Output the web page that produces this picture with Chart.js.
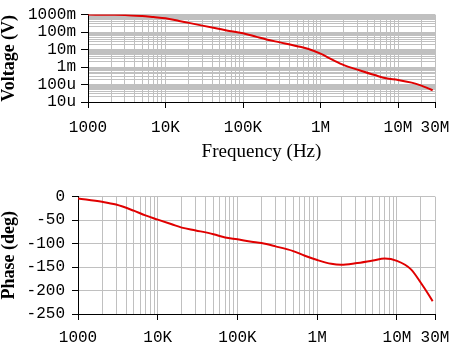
<!DOCTYPE html>
<html>
<head>
<meta charset="utf-8">
<script src="https://cdn.jsdelivr.net/npm/chart.js@4"></script>
<style>
  html, body { margin: 0; padding: 0; background: #fff; }
  #wrap { position: relative; width: 461px; height: 352px; overflow: hidden; }
  #magChart { position: absolute; left: 0; top: 0; }
  #phaseChart { position: absolute; left: 0; top: 180px; }
</style>
</head>
<body>
<div id="wrap">
  <canvas id="magChart" width="461" height="180"></canvas>
  <canvas id="phaseChart" width="461" height="172"></canvas>
</div>
<script>
// frequency points (Hz)
const freqs = [1e3, 2e3, 3e3, 5e3, 7e3, 1e4, 1.5e4, 2e4, 3e4, 5e4, 7e4, 1e5, 1.5e5, 2e5, 3e5, 5e5, 7e5,
  1e6, 1.5e6, 2e6, 3e6, 5e6, 7e6, 1e7, 1.5e7, 2e7, 2.5e7, 2.8e7];
// magnitude (V)
const voltage = [1.0, 0.98, 0.95, 0.82, 0.72, 0.625, 0.436, 0.336, 0.234, 0.15, 0.112, 0.086, 0.053, 0.038,
  0.0257, 0.0156, 0.0108, 0.0058, 0.0023, 0.00128, 0.00071, 0.000347, 0.000226, 0.000183, 0.000128,
  0.000086, 0.000058, 0.000047];
// phase (deg)
const phase = [-4, -11, -17, -30, -40, -49, -59, -66, -72, -80, -87, -91, -96, -99, -106, -116, -126,
  -135, -143, -145, -142, -136, -132, -137, -155, -184, -209, -223];

const freqMajor = [1e3, 1e4, 1e5, 1e6, 1e7, 3e7];
const freqLabels = ['1000', '10K', '100K', '1M', '10M', '30M'];
const voltMajor = [1, 0.1, 0.01, 0.001, 1e-4, 1e-5];
const voltLabels = ['1000m', '100m', '10m', '1m', '100u', '10u'];
const phaseTicks = [0, -50, -100, -150, -200, -250];

const GRID = '#c0c0c0';
const RED = '#e00000';
const monoFont = { family: 'Liberation Mono', size: 16 };

function logGrid(lo, hi) {
  const out = [];
  for (let e = Math.round(Math.log10(lo)); Math.pow(10, e) <= hi * 1.0001; e++) {
    for (let k = 1; k <= 9; k++) {
      const v = k * Math.pow(10, e);
      if (v <= hi * 1.0001) out.push(v);
    }
  }
  return out;
}

function findMajor(v, majors) {
  return majors.findIndex(m => Math.abs(v / m - 1) < 1e-6);
}

function freqAxis(withTitle, fitHeight, labelPad) {
  return {
    type: 'logarithmic',
    min: 1e3,
    max: 3e7,
    afterBuildTicks: s => { s.ticks = logGrid(1e3, 3e7).map(v => ({ value: v })); },
    afterFit: s => { s.height = fitHeight; },
    grid: {
      color: GRID,
      tickLength: 6,
      tickColor: c => (c.tick && findMajor(c.tick.value, freqMajor) >= 0) ? '#000' : 'rgba(0,0,0,0)'
    },
    border: { color: '#000', width: 1 },
    ticks: {
      autoSkip: false,
      maxRotation: 0,
      minRotation: 0,
      color: '#000',
      font: monoFont,
      padding: labelPad,
      callback: v => {
        const i = findMajor(v, freqMajor);
        return i >= 0 ? freqLabels[i] : '';
      }
    },
    title: {
      display: withTitle,
      text: 'Frequency (Hz)',
      color: '#000',
      font: { family: 'Liberation Serif', size: 19, lineHeight: 1 },
      padding: { top: 0, bottom: 18 }
    }
  };
}

const common = {
  responsive: false,
  animation: false,
  plugins: { legend: { display: false }, tooltip: { enabled: false } }
};

new Chart(document.getElementById('magChart'), {
  type: 'line',
  data: {
    datasets: [{
      data: freqs.map((f, i) => ({ x: f, y: voltage[i] })),
      borderColor: RED,
      borderWidth: 2,
      pointRadius: 0,
      cubicInterpolationMode: 'monotone'
    }]
  },
  options: {
    ...common,
    layout: { padding: { top: 5, right: 26, left: 0, bottom: 0 } },
    scales: {
      x: freqAxis(true, 78, 10),
      y: {
        type: 'logarithmic',
        min: 1e-5,
        max: 1,
        afterBuildTicks: s => { s.ticks = logGrid(1e-5, 1).map(v => ({ value: v })); },
        afterFit: s => { s.width = 88; },
        grid: {
          color: GRID,
          tickLength: 7,
          tickColor: c => (c.tick && findMajor(c.tick.value, voltMajor) >= 0) ? '#000' : 'rgba(0,0,0,0)'
        },
        border: { color: '#000', width: 1 },
        ticks: {
          autoSkip: false,
          color: '#000',
          font: monoFont,
          padding: 5,
          callback: v => {
            const i = findMajor(v, voltMajor);
            return i >= 0 ? voltLabels[i] : '';
          }
        },
        title: {
          display: true,
          text: 'Voltage (V)',
          color: '#000',
          font: { family: 'Liberation Serif', size: 18, weight: 'bold', lineHeight: 1 },
          padding: 0
        }
      }
    }
  }
});

new Chart(document.getElementById('phaseChart'), {
  type: 'line',
  data: {
    datasets: [{
      data: freqs.map((f, i) => ({ x: f, y: phase[i] })),
      borderColor: RED,
      borderWidth: 2,
      pointRadius: 0,
      cubicInterpolationMode: 'monotone'
    }]
  },
  options: {
    ...common,
    layout: { padding: { top: 15, right: 26, left: 0, bottom: 0 } },
    scales: {
      x: freqAxis(false, 38, 8),
      y: {
        type: 'linear',
        min: -250,
        max: 0,
        afterBuildTicks: s => { s.ticks = phaseTicks.map(v => ({ value: v })); },
        afterFit: s => { s.width = 78; },
        grid: { color: GRID, tickLength: 6, tickColor: '#000' },
        border: { color: '#000', width: 1 },
        ticks: { color: '#000', font: monoFont, padding: 7 },
        title: {
          display: true,
          text: 'Phase (deg)',
          color: '#000',
          font: { family: 'Liberation Serif', size: 18, weight: 'bold', lineHeight: 1 },
          padding: 0
        }
      }
    }
  }
});
</script>
</body>
</html>
